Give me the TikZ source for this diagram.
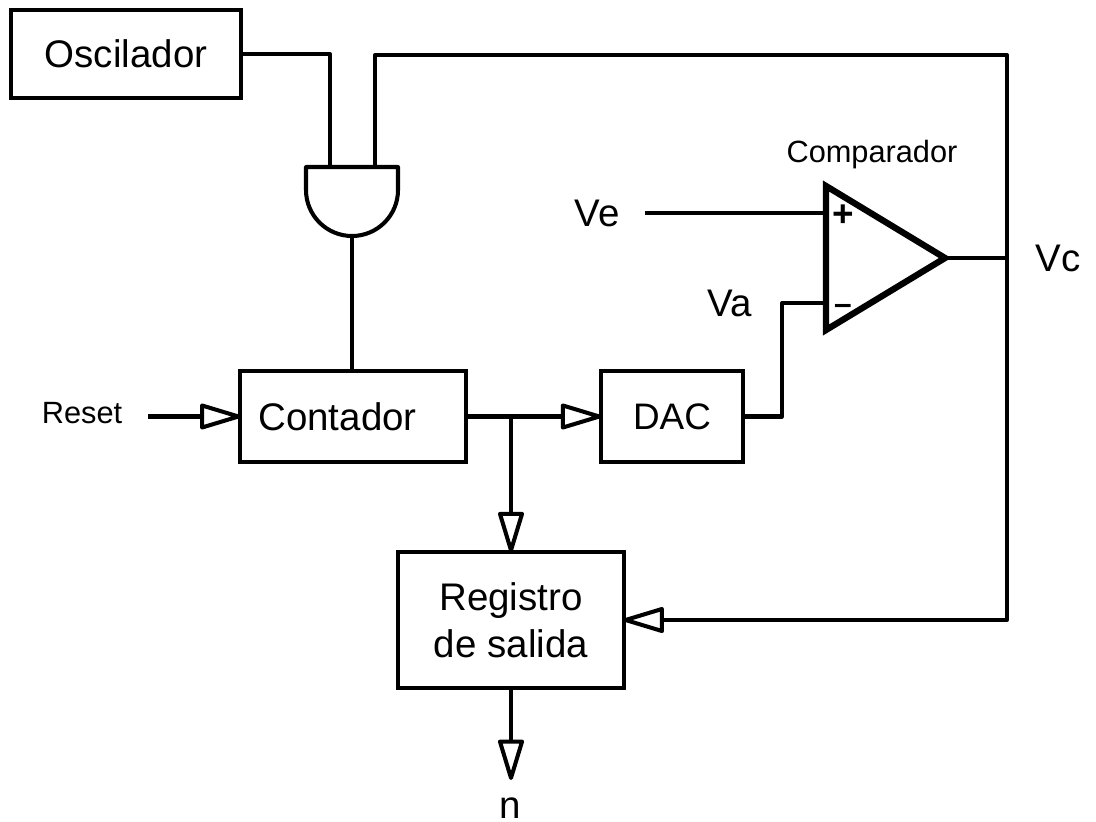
\documentclass[tikz,border=0pt]{standalone}
\usepackage{fontspec}
\setmainfont{Liberation Sans}
\usetikzlibrary{calc}
\usetikzlibrary{arrows.meta}
\newcommand{\bigtext}{\fontsize{21.9}{26.6}\selectfont}
\newcommand{\smalltext}{\fontsize{17.5}{20}\selectfont}
\tikzstyle{block}=[%
  draw,
  line width=2.3pt,
  outer sep=0pt,
  inner sep=0pt,
  align=center,
  font=\bigtext
]
\tikzstyle{wire}=[line width=2.3pt, line join=round]
\tikzstyle{flow}=[wire, -{Triangle[open, length=26pt, width=15pt, round]}]
\tikzstyle{signal}=[inner sep=0pt, font=\bigtext]
\tikzstyle{tag}=[inner sep=0pt, font=\smalltext]

\begin{document}
\begin{tikzpicture}[x=0.02cm, y=-0.02cm]
      \useasboundingbox (0, 0) rectangle (1096, 822);
      \node[block, minimum width=230*0.567pt, minimum height=88*0.567pt] (oscilador) at (126, 54) {\raisebox{-1pt}{Oscilador}};
      \node[block, minimum width=226*0.567pt, minimum height=91*0.567pt, text width=190*0.567pt, align=left] (contador) at (353, 416.5) {Contador};
      \node[block, minimum width=142*0.567pt, minimum height=91*0.567pt] (dac) at (672, 416.5) {\fontsize{21}{26}\selectfont DAC};
      \node[block, minimum width=226*0.567pt, minimum height=136*0.567pt] (registro) at (511, 620) {Registro\\de salida};

      % puerta
      \draw[wire] (306, 167) -- (398, 167) -- (398, 190) arc (0:180:46) -- cycle;
      \coordinate (gatea) at (330, 167);
      \coordinate (gateb) at (375, 167);
      \coordinate (gatec) at (352, 236);

      % comparador
      \draw[line width=3.6pt, line join=miter] (826, 186) -- (945, 258) -- (826, 330) -- cycle;
      \coordinate (compp) at (826, 213);
      \coordinate (compn) at (826, 303);
      \coordinate (compo) at (945, 258);
      \node[inner sep=0pt, font=\fontsize{21}{22}\selectfont\bfseries] (plus) at (843, 216) {+};
      \node[inner sep=0pt, font=\fontsize{18}{20}\selectfont\bfseries] (minus) at (843, 309) {--};

      \node[signal] (ve) at (597, 213) {Ve};
      \node[signal] (va) at (730, 303) {Va};
      \node[signal] (vc) at (1058, 258) {Vc};
      \node[signal] (n) at (510, 808) {n};
      \node[tag] (reset) at (82, 413) {Reset};
      \node[tag] (comparador) at (872, 155) {Comparador};

      \coordinate (vefin) at (645, 213);
      \coordinate (resetfin) at (148, 416.5);
      \coordinate (nudo) at (511, 416.5);
      \coordinate (vcnudo) at (1007, 258);
      \coordinate (esquina) at (1007, 55);
      \coordinate (vadown) at (782, 303);
      \coordinate (salida) at (511, 780);

      \draw[wire] (oscilador.east) -| (gatea);
      \draw[wire] (gatec) -- (gatec |- contador.north);
      \draw[wire] (vefin) -- (compp);
      \draw[wire] (dac.east) -| (vadown) -- (compn);
      \draw[wire] (compo) -- (vcnudo);
      \draw[flow] (resetfin) -- (contador.west);
      \draw[flow] (contador.east) -- (dac.west);
      \draw[flow] (nudo) -- (registro.north);
      \draw[flow] (gateb) |- (esquina) |- (registro.east);
      \draw[flow] (registro.south) -- (salida);
    \end{tikzpicture}
\end{document}
